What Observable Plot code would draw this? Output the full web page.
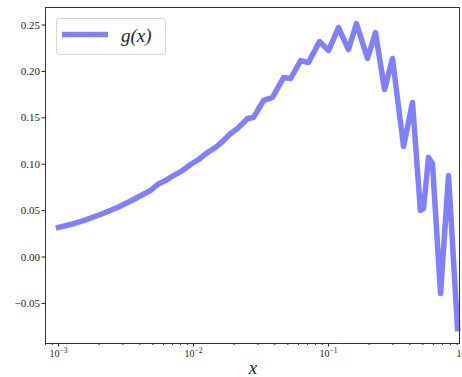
<!DOCTYPE html>
<html>
<head>
<meta charset="utf-8">
<script src="https://cdn.jsdelivr.net/npm/d3@7"></script>
<script src="https://cdn.jsdelivr.net/npm/@observablehq/plot@0.6"></script>
<style>
  html, body { margin: 0; padding: 0; background: white; }
  #chart svg text { font-family: "Liberation Serif", "DejaVu Serif", serif !important; }
</style>
</head>
<body>
<div id="chart"></div>
<script>
const xValues = [0.001, 0.001227, 0.001531, 0.002046, 0.002735, 0.003597, 0.004797,
  0.005408, 0.006209, 0.007112, 0.008299, 0.009506, 0.010889, 0.012706, 0.014555,
  0.016672, 0.018793, 0.021184, 0.025119, 0.027797, 0.033037, 0.038459, 0.046452,
  0.052360, 0.062087, 0.071121, 0.085704, 0.1, 0.118577, 0.140605, 0.161065,
  0.194536, 0.222844, 0.260016, 0.297852, 0.359749, 0.418794, 0.479733, 0.505825,
  0.550808, 0.588844, 0.676083, 0.774462, 0.903649];
const gValues = [0.0318, 0.0350, 0.0393, 0.0458, 0.0533, 0.0620, 0.0717,
  0.0781, 0.0824, 0.0878, 0.0932, 0.0997, 0.1051, 0.1126, 0.1180,
  0.1255, 0.1331, 0.1385, 0.1492, 0.1503, 0.1687, 0.1719, 0.1934,
  0.1923, 0.2117, 0.2096, 0.2322, 0.2225, 0.2473, 0.2236, 0.2516,
  0.2139, 0.2419, 0.1805, 0.2139, 0.1191, 0.1665, 0.0501, 0.0523,
  0.1072, 0.1008, -0.0393, 0.0878, -0.0770];

const xMajorTicks = [0.001, 0.01, 0.1, 1];
const xMajorExponents = ["−3", "−2", "−1", "0"];
const xMinorTicks = [0.0008, 0.0009,
  0.002, 0.003, 0.004, 0.005, 0.006, 0.007, 0.008, 0.009,
  0.02, 0.03, 0.04, 0.05, 0.06, 0.07, 0.08, 0.09,
  0.2, 0.3, 0.4, 0.5, 0.6, 0.7, 0.8, 0.9];
const yTicks = [-0.05, 0, 0.05, 0.10, 0.15, 0.20, 0.25];
const seriesName = "g(x)";
const xLabel = "x";

const data = xValues.map((x, i) => ({x, g: gValues[i]}));

const serif = "Liberation Serif, DejaVu Serif, serif";
const lineColor = "#8080ff";

const plot = Plot.plot({
  width: 462,
  height: 377,
  marginLeft: 45,
  marginRight: 3,
  marginTop: 7,
  marginBottom: 34,
  style: {fontFamily: serif, fontSize: "11px", color: "#222", background: "white"},
  x: {type: "log", domain: [Math.pow(10, -3.0963), Math.pow(10, -0.0296)]},
  y: {domain: [-0.0932, 0.2689]},
  marks: [
    Plot.line(data, {x: "x", y: "g", stroke: lineColor, strokeWidth: 5.5, strokeLinejoin: "round", strokeLinecap: "square"}),
    Plot.frame({stroke: "#333", strokeWidth: 1}),
    Plot.axisX({ticks: xMajorTicks, tickSize: 3.5, tickPadding: 3, label: null, fontSize: 10,
      tickFormat: d => "10^" + xMajorExponents[xMajorTicks.indexOf(d)]}),
    Plot.axisX({ticks: xMinorTicks, tickSize: 2, label: null, tickFormat: () => ""}),
    Plot.axisY({ticks: yTicks, tickSize: 3.5, tickPadding: 2, label: null, fontSize: 11,
      tickFormat: d3.format(".2f")})
  ]
});

document.getElementById("chart").appendChild(plot);

const svg = d3.select(plot);

// render exponents as superscripts
svg.selectAll("text").each(function() {
  const t = this.textContent;
  const m = /^10\^(.+)$/.exec(t);
  if (!m) return;
  const sel = d3.select(this);
  sel.text("10");
  sel.append("tspan").attr("dy", -4).attr("font-size", 7.5).text(m[1]);
});

// x-axis label
svg.append("text")
  .attr("x", 253).attr("y", 374)
  .attr("text-anchor", "middle")
  .attr("font-style", "italic")
  .attr("font-size", 19)
  .attr("fill", "#222")
  .text(xLabel);

// legend
const lg = svg.append("g");
lg.append("rect")
  .attr("x", 56.5).attr("y", 18.5).attr("width", 109).attr("height", 36)
  .attr("rx", 3).attr("fill", "white").attr("fill-opacity", 0.8)
  .attr("stroke", "#d4d4d4").attr("stroke-width", 1);
lg.append("line")
  .attr("x1", 62).attr("x2", 108).attr("y1", 34.5).attr("y2", 34.5)
  .attr("stroke", lineColor).attr("stroke-width", 5.5);
lg.append("text")
  .attr("x", 121).attr("y", 42)
  .attr("text-anchor", "start")
  .attr("font-style", "italic")
  .attr("font-size", 19)
  .attr("fill", "#222")
  .text(seriesName);
</script>
</body>
</html>
